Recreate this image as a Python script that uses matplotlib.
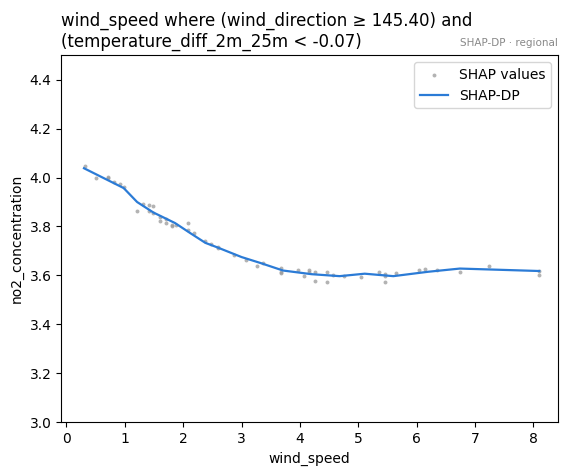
import matplotlib
matplotlib.use("Agg")
import matplotlib.pyplot as plt

shap_x = [0.31, 0.51, 0.71, 0.71, 0.81, 0.91, 0.99, 1.2, 1.31, 1.41, 1.41, 1.49, 1.49, 1.6, 1.6,
          1.70, 1.70, 1.80, 1.80, 1.88, 2.09, 2.09, 2.19, 2.38, 2.48, 2.59, 2.59, 2.87, 3.08, 3.27,
          3.37, 3.68, 3.68, 3.68, 3.97, 4.07, 4.16, 4.16, 4.26, 4.26, 4.47, 4.47, 4.57, 4.76, 5.05,
          5.36, 5.46, 5.46, 5.46, 5.65, 6.04, 6.14, 6.35, 6.74, 7.24, 8.1, 8.1]
shap_y = [4.048, 3.997, 4.004, 3.997, 3.98, 3.974, 3.963, 3.864, 3.891, 3.886, 3.864, 3.882, 3.854, 3.84, 3.824,
          3.829, 3.813, 3.808, 3.802, 3.808, 3.813, 3.785, 3.772, 3.742, 3.73, 3.718, 3.714, 3.683, 3.665, 3.638,
          3.649, 3.629, 3.615, 3.61, 3.622, 3.596, 3.622, 3.615, 3.613, 3.576, 3.613, 3.572, 3.60, 3.596, 3.592,
          3.613, 3.605, 3.596, 3.572, 3.608, 3.624, 3.628, 3.622, 3.613, 3.64, 3.618, 3.60]

dp_x = [0.3, 0.98, 1.21, 1.49, 1.86, 2.12, 2.38, 2.58, 3.0, 3.32, 3.71, 4.2, 4.68, 5.11, 5.6, 6.2, 6.74, 8.1]
dp_y = [4.038, 3.957, 3.90, 3.857, 3.814, 3.773, 3.733, 3.715, 3.675, 3.651, 3.62, 3.605, 3.597, 3.607, 3.597, 3.615, 3.628, 3.618]

fig = plt.figure(figsize=(5.67, 4.76), dpi=100)
ax = fig.add_axes([0.108, 0.113, 0.876, 0.771])
ax.scatter(shap_x, shap_y, s=8, color='#9a9a9a', alpha=0.75, linewidths=0, label='SHAP values')
ax.plot(dp_x, dp_y, color='#2b7bd6', lw=1.6, label='SHAP-DP')
ax.set_xlim(-0.09, 8.42)
ax.set_ylim(3.0, 4.5)
ax.set_xlabel('wind_speed')
ax.set_ylabel('no2_concentration')
ax.set_title('wind_speed where (wind_direction \u2265 145.40) and\n(temperature_diff_2m_25m < -0.07)',
             loc='left', fontsize=12)
ax.text(1.0, 1.02, 'SHAP-DP \u00b7 regional', transform=ax.transAxes, ha='right', va='bottom',
        fontsize=7.5, color='#888888')
ax.legend(loc='upper right')
fig.savefig('out.png', dpi=100)
